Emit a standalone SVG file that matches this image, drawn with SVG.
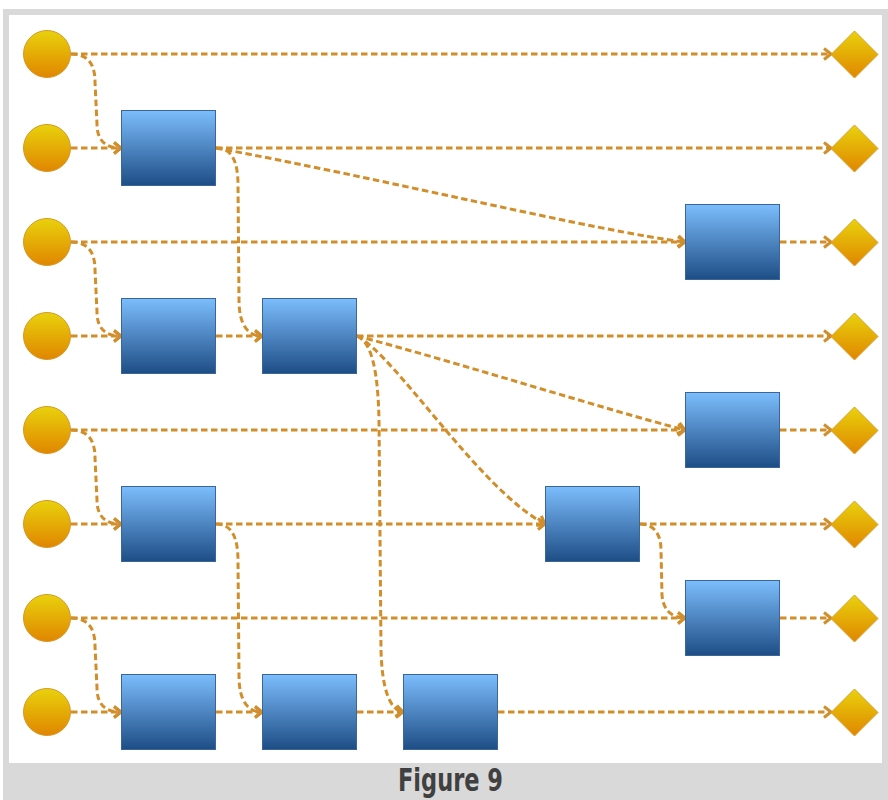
<svg xmlns="http://www.w3.org/2000/svg" width="888" height="800" viewBox="0 0 888 800">
<style>
.c{fill:url(#gy);stroke:#D7982A;stroke-width:1}
.b{fill:url(#gb);stroke:#3A679A;stroke-width:1}
.d{fill:url(#gy);stroke:#D99E2C;stroke-width:1}
.e{fill:none;stroke:#D18E2A;stroke-width:3;stroke-dasharray:6.5 3.5;marker-end:url(#ah)}
.cap{font-family:"DejaVu Sans Condensed","DejaVu Sans",sans-serif;font-weight:bold;font-size:32px;fill:#404040}
</style>
<defs>
<linearGradient id="gy" x1="0" y1="0" x2="0" y2="1">
<stop offset="0" stop-color="#E8D20C"/>
<stop offset="1" stop-color="#E08600"/>
</linearGradient>
<linearGradient id="gb" x1="0" y1="0" x2="0" y2="1">
<stop offset="0" stop-color="#7CBDFC"/>
<stop offset="1" stop-color="#1E4D85"/>
</linearGradient>
<marker id="ah" markerUnits="userSpaceOnUse" markerWidth="14" markerHeight="16" refX="10" refY="8" orient="auto" overflow="visible">
<path d="M3,2.5 L10,8 L3,13.5" fill="none" stroke="#D18E2A" stroke-width="3"/>
</marker>
</defs>
<rect x="3" y="9" width="885" height="791" fill="#D9D9D9"/>
<rect x="9" y="15" width="873" height="748" fill="#FFFFFF"/>

<g id="connectors">
<!-- row 1 -->
<path class="e" d="M71,54 L831,54"/>
<path class="e" d="M71,54 C88,54 95,64 95,82 L97,124 C97,140 105,148 121,148"/>
<!-- row 2 -->
<path class="e" d="M71,148 L121,148"/>
<path class="e" d="M216,148 L831,148"/>
<path class="e" d="M216,148 C380,178 600,232 685,242"/>
<path class="e" d="M216,148 C231,148 238,160 238,185 L239,300 C239,325 248,336 262,336"/>
<!-- row 3 -->
<path class="e" d="M71,242 L685,242"/>
<path class="e" d="M780,242 L831,242"/>
<path class="e" d="M71,242 C88,242 95,252 95,270 L97,312 C97,328 105,336 121,336"/>
<!-- row 4 -->
<path class="e" d="M71,336 L121,336"/>
<path class="e" d="M216,336 L262,336"/>
<path class="e" d="M357,336 L831,336"/>
<path class="e" d="M357,336 C470,366 600,408 685,430"/>
<path class="e" d="M357,336 C395,355 480,490 545,524"/>
<path class="e" d="M357,336 C372,342 378,372 379,420 L381,650 C382,690 390,710 403,712"/>
<!-- row 5 -->
<path class="e" d="M71,430 L685,430"/>
<path class="e" d="M780,430 L831,430"/>
<path class="e" d="M71,430 C88,430 95,440 95,458 L97,500 C97,516 105,524 121,524"/>
<!-- row 6 -->
<path class="e" d="M71,524 L121,524"/>
<path class="e" d="M216,524 L545,524"/>
<path class="e" d="M640,524 L831,524"/>
<path class="e" d="M216,524 C231,524 238,536 238,561 L239,676 C239,701 248,712 262,712"/>
<path class="e" d="M640,524 C652,524 661,532 661,550 L662,595 C663,610 672,618 685,618"/>
<!-- row 7 -->
<path class="e" d="M71,618 L685,618"/>
<path class="e" d="M780,618 L831,618"/>
<path class="e" d="M71,618 C88,618 95,628 95,646 L97,688 C97,704 105,712 121,712"/>
<!-- row 8 -->
<path class="e" d="M71,712 L121,712"/>
<path class="e" d="M216,712 L262,712"/>
<path class="e" d="M357,712 L403,712"/>
<path class="e" d="M498,712 L831,712"/>
</g>

<g id="s1"><circle class="c" cx="47" cy="54" r="23.5"/></g>
<g id="s2"><circle class="c" cx="47" cy="148" r="23.5"/></g>
<g id="s3"><circle class="c" cx="47" cy="242" r="23.5"/></g>
<g id="s4"><circle class="c" cx="47" cy="336" r="23.5"/></g>
<g id="s5"><circle class="c" cx="47" cy="430" r="23.5"/></g>
<g id="s6"><circle class="c" cx="47" cy="524" r="23.5"/></g>
<g id="s7"><circle class="c" cx="47" cy="618" r="23.5"/></g>
<g id="s8"><circle class="c" cx="47" cy="712" r="23.5"/></g>

<g id="p1"><rect class="b" x="121.5" y="110.5" width="94" height="75"/></g>
<g id="p2"><rect class="b" x="121.5" y="298.5" width="94" height="75"/></g>
<g id="p3"><rect class="b" x="262.5" y="298.5" width="94" height="75"/></g>
<g id="p4"><rect class="b" x="121.5" y="486.5" width="94" height="75"/></g>
<g id="p5"><rect class="b" x="121.5" y="674.5" width="94" height="75"/></g>
<g id="p6"><rect class="b" x="262.5" y="674.5" width="94" height="75"/></g>
<g id="p7"><rect class="b" x="403.5" y="674.5" width="94" height="75"/></g>
<g id="p8"><rect class="b" x="545.5" y="486.5" width="94" height="75"/></g>
<g id="p9"><rect class="b" x="685.5" y="204.5" width="94" height="75"/></g>
<g id="p10"><rect class="b" x="685.5" y="392.5" width="94" height="75"/></g>
<g id="p11"><rect class="b" x="685.5" y="580.5" width="94" height="75"/></g>

<g id="t1"><polygon class="d" points="854.5,31 878,54.5 854.5,78 831,54.5"/></g>
<g id="t2"><polygon class="d" points="854.5,125 878,148.5 854.5,172 831,148.5"/></g>
<g id="t3"><polygon class="d" points="854.5,219 878,242.5 854.5,266 831,242.5"/></g>
<g id="t4"><polygon class="d" points="854.5,313 878,336.5 854.5,360 831,336.5"/></g>
<g id="t5"><polygon class="d" points="854.5,407 878,430.5 854.5,454 831,430.5"/></g>
<g id="t6"><polygon class="d" points="854.5,501 878,524.5 854.5,548 831,524.5"/></g>
<g id="t7"><polygon class="d" points="854.5,595 878,618.5 854.5,642 831,618.5"/></g>
<g id="t8"><polygon class="d" points="854.5,689 878,712.5 854.5,736 831,712.5"/></g>

<text class="cap" x="398" y="791" textLength="105" lengthAdjust="spacingAndGlyphs">Figure 9</text>
</svg>
